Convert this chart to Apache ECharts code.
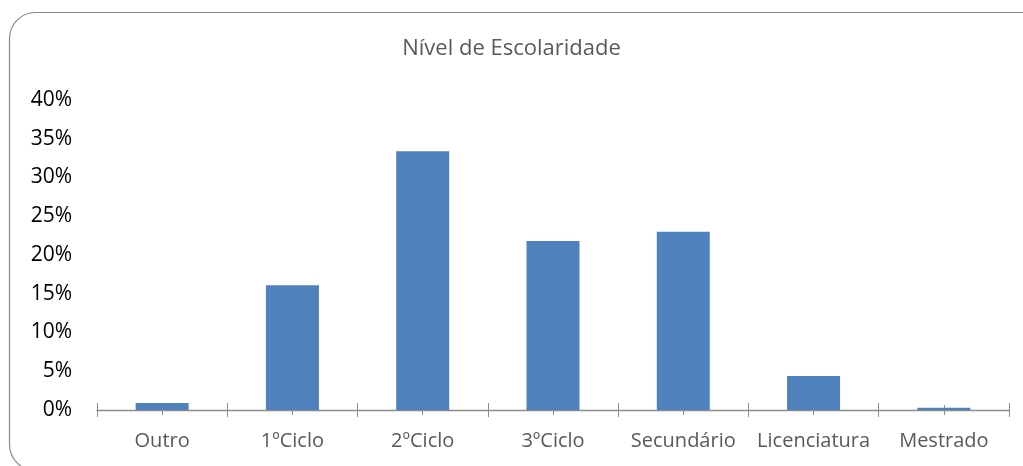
<!DOCTYPE html>
<html>
<head>
<meta charset="utf-8">
<script src="https://cdn.jsdelivr.net/npm/echarts@6/dist/echarts.min.js"></script>
<style>
  html, body { margin: 0; padding: 0; background: #fff; }
  #chart { width: 1023px; height: 466px; }
</style>
</head>
<body>
<div id="chart"></div>
<script>
const categories = ['Outro', '1ºCiclo', '2ºCiclo', '3ºCiclo', 'Secundário', 'Licenciatura', 'Mestrado']
const percentages = [0.9, 16.1, 33.4, 21.8, 23.0, 4.4, 0.3]
const chartTitle = 'Nível de Escolaridade'

const font = 'Open Sans'
const axisGray = '#8c8c8c'

const chart = echarts.init(document.getElementById('chart'))

// extra x axes only draw the tick marks crossing the axis line
const tickAxis = (offset, length, alignWithLabel) => ({
  type: 'category',
  data: categories,
  position: 'bottom',
  offset: offset,
  axisLine: { show: false },
  axisLabel: { show: false },
  axisTick: { show: true, length: length, alignWithLabel: alignWithLabel, interval: 0, lineStyle: { color: axisGray } }
})

const option = {
  animation: false,
  title: {
    text: chartTitle,
    left: 'center',
    top: 33,
    textStyle: { fontFamily: font, fontSize: 22, fontWeight: 'normal', color: '#595959' }
  },
  graphic: [{
    type: 'rect',
    shape: { x: 9.5, y: 12.5, width: 1040, height: 458, r: 26 },
    style: { fill: 'none', stroke: '#8a8a8a', lineWidth: 1.2 },
    silent: true
  }],
  grid: { left: 97, right: 14, top: 100, bottom: 56 },
  xAxis: [
    {
      type: 'category',
      data: categories,
      axisLine: { lineStyle: { color: axisGray, width: 1.3 } },
      axisTick: { show: false },
      axisLabel: { interval: 0, margin: 21, fontFamily: font, fontSize: 20, color: '#595959' }
    },
    tickAxis(-7, 14, false),
    tickAxis(-5, 10, true)
  ],
  yAxis: {
    type: 'value',
    min: 0,
    max: 40,
    interval: 5,
    axisLine: { show: false },
    axisTick: { show: false },
    splitLine: { show: false },
    axisLabel: { margin: 25, fontFamily: font, fontSize: 21, color: '#000', formatter: '{value}%' }
  },
  series: [{
    type: 'bar',
    data: percentages,
    barWidth: 53,
    itemStyle: { color: '#4f81bd' }
  }]
}

chart.setOption(option)
</script>
</body>
</html>
